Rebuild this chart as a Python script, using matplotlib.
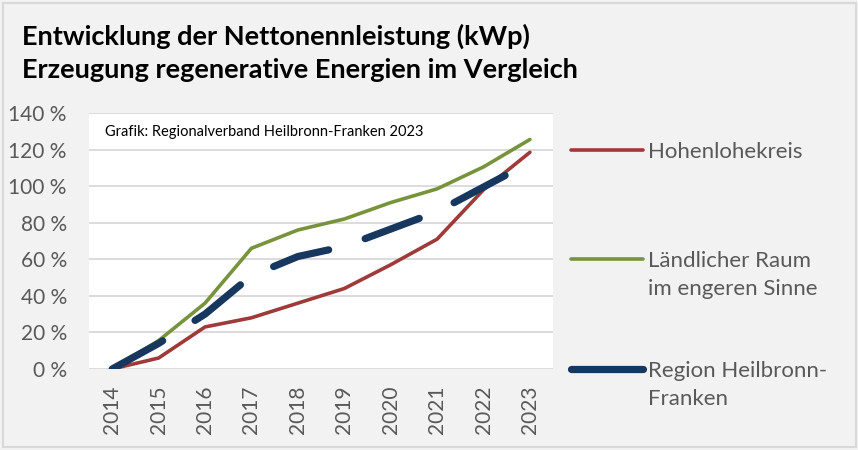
import numpy as np
import matplotlib
matplotlib.use("Agg")
import matplotlib.pyplot as plt
from matplotlib.lines import Line2D
from matplotlib.patches import Rectangle

# values (percent change vs. 2014)
years = ["2014", "2015", "2016", "2017", "2018", "2019", "2020", "2021", "2022", "2023"]
hohenlohe = [0, 6, 23, 28, 36, 44, 57, 71, 98, 118.5]
laendlich = [0, 15.5, 36, 66, 76, 82, 91, 98.5, 110.5, 125.5]
region = [0, 14, 30, 51, 61.5, 67, 76.5, 86, 99.5, 113]
yticks = [0, 20, 40, 60, 80, 100, 120, 140]

c_red = "#9e3a38"
c_green = "#77933c"
c_navy = "#17375e"
c_text = "#595959"
font = "Lato"

fig = plt.figure(figsize=(8.58, 4.5), dpi=100)
fig.patch.set_facecolor("#f2f2f2")
fig.add_artist(Rectangle((0.004, 0.006), 0.994, 0.988, transform=fig.transFigure,
                         fill=False, edgecolor="#d9d9d9", linewidth=1.5))

ax = fig.add_axes([0.1037, 0.18, 0.541, 0.569])
ax.set_facecolor("white")
x = np.arange(len(years))

ax.plot(x, hohenlohe, color=c_red, lw=2.6, solid_capstyle="round", zorder=3)
ax.plot(x, laendlich, color=c_green, lw=2.6, solid_capstyle="round", zorder=3)
ax.plot(x, region, color=c_navy, lw=5.2, linestyle=(0, (8.0, 5.3)),
        dash_capstyle="round", zorder=4)

ax.set_xlim(-0.5, len(years) - 0.5)
ax.set_ylim(0, 140)
ax.set_yticks(yticks)
ax.set_yticklabels([f"{v} %" for v in yticks], fontsize=15, color=c_text, family=font)
ax.set_xticks(x)
ax.set_xticklabels(years, rotation=90, fontsize=15, color=c_text, family=font)
ax.tick_params(length=0, pad=16, axis="y")
ax.tick_params(length=0, pad=12, axis="x")
ax.grid(axis="y", color="#d9d9d9", lw=1.3)
ax.set_axisbelow(True)
for s in ax.spines.values():
    s.set_visible(False)

ax.text(0.035, 0.925, "Grafik: Regionalverband Heilbronn-Franken 2023", transform=ax.transAxes,
        fontsize=10.5, family=font, color="black", va="center")

# title
fig.text(0.026, 0.92, "Entwicklung der Nettonennleistung (kWp)", fontsize=19.5,
         fontweight="bold", family=font, va="center")
fig.text(0.026, 0.845, "Erzeugung regenerative Energien im Vergleich", fontsize=19.5,
         fontweight="bold", family=font, va="center")

# legend drawn by hand to match the layout
legend = [("Hohenlohekreis", c_red, 2.6, 150),
          ("Ländlicher Raum\nim engeren Sinne", c_green, 2.6, 259),
          ("Region Heilbronn-\nFranken", c_navy, 5.2, 369)]
for label, col, lw, ypx in legend:
    yf = 1 - ypx / 450
    fig.add_artist(Line2D([0.666, 0.749], [yf, yf], transform=fig.transFigure,
                          color=col, lw=lw, solid_capstyle="round"))
    fig.text(0.755, yf + 0.018, label, fontsize=16, color=c_text, family=font,
             va="top", ha="left", linespacing=1.5)

fig.savefig("out.png", dpi=100, facecolor=fig.get_facecolor())
